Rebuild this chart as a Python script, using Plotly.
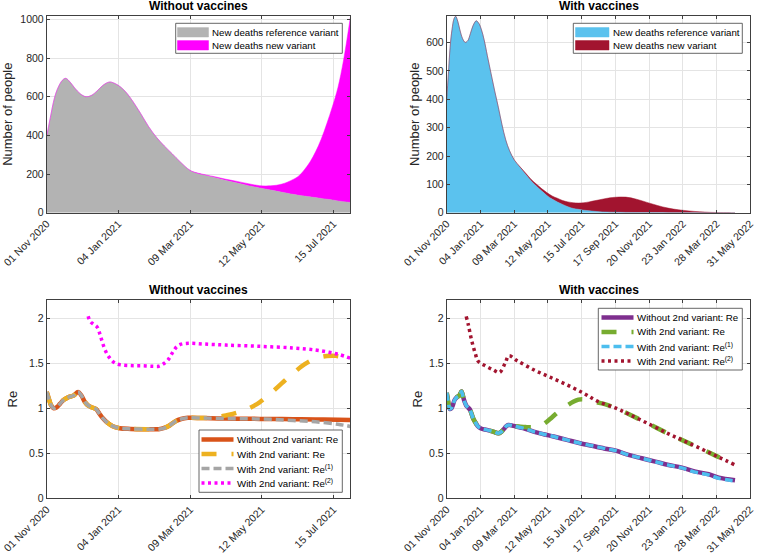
import plotly.graph_objects as go
import pandas as pd

START = pd.Timestamp("2020-11-01")

TICK_DATES = ["2020-11-01", "2021-01-04", "2021-03-09", "2021-05-12", "2021-07-15",
              "2021-09-17", "2021-11-20", "2022-01-23", "2022-03-28", "2022-05-31"]
TICK_LABELS = ["01 Nov 2020", "04 Jan 2021", "09 Mar 2021", "12 May 2021", "15 Jul 2021",
               "17 Sep 2021", "20 Nov 2021", "23 Jan 2022", "28 Mar 2022", "31 May 2022"]

# ---------- Top left: new deaths without vaccines (days since 1 Nov 2020) ----------
tl_days = [0, 3, 7, 10, 14, 17, 21, 25, 30, 35, 40, 45, 50, 56, 61, 66, 71, 77, 84, 91,
           98, 105, 112, 119, 128, 134, 140, 150, 160, 170, 180, 190, 200, 210, 220, 225,
           230, 235, 240, 245, 250, 255, 260, 265, 271]
tl_ref = [395, 485, 595, 645, 685, 695, 675, 645, 615, 600, 607, 630, 658, 676, 668, 650,
          622, 575, 512, 445, 390, 345, 305, 264, 218, 204, 195, 182, 167, 154, 140, 128,
          117, 106, 95, 90, 86, 82, 78, 74, 70, 66, 61, 57, 53]
tl_new = [0, 0, 0, 0, 0, 0, 0, 0, 0, 0, 0, 0, 0, 0, 0, 0, 0, 0, 0, 0, 0, 0, 0, 0,
          1, 2, 3, 4, 6, 8, 10, 12, 22, 42, 77, 100, 136, 180, 237, 306, 390, 482, 587,
          733, 957]

# ---------- Top right: new deaths with vaccines ----------
tr_days = [0, 3, 7, 10, 14, 17, 21, 25, 30, 35, 40, 45, 50, 56, 61, 66, 71, 77, 84, 91,
           98, 105, 112, 119, 128, 140, 150, 160, 170, 180, 190, 200, 210, 220, 230, 240,
           250, 260, 270, 280, 290, 300, 320, 340, 360, 380, 400, 420, 440, 460, 480, 500,
           520, 540, 547]
tr_ref = [398, 485, 595, 645, 685, 693, 675, 645, 615, 601, 607, 632, 660, 677, 668, 645,
          610, 555, 492, 430, 372, 310, 257, 220, 186, 158, 135, 113, 94, 77, 61, 48, 38,
          29, 21, 15, 12, 9, 7, 5, 3.5, 2.5, 1.5, 1, 0.6, 0.4, 0.3, 0.2, 0.15, 0.1, 0.05,
          0.03, 0.01, 0, 0]
tr_new = [0, 0, 0, 0, 0, 0, 0, 0, 0, 0, 0, 0, 0, 0, 0, 0, 0, 0, 0, 0, 0, 0, 0, 0,
          1, 2, 4, 5, 7, 8, 10, 11, 13, 14, 17, 20, 22, 26, 31, 37, 42, 47, 53, 54, 47,
          36, 25, 16, 10, 6, 3, 1.2, 0.3, 0.05, 0]

# ---------- Bottom left: Re without vaccines ----------
bl_days = [0, 2, 4, 6, 9, 12, 15, 19, 24, 28, 31, 34, 37, 40, 44, 47, 50, 54, 59, 65,
           75, 90, 100, 105, 110, 115, 120, 126, 140, 160, 180, 200, 220, 240, 260, 271]
bl_re = [1.18, 1.1, 1.03, 1.0, 1.01, 1.05, 1.09, 1.12, 1.14, 1.18, 1.14, 1.07, 1.03, 1.01,
         0.99, 0.94, 0.89, 0.84, 0.8, 0.778, 0.77, 0.767, 0.767, 0.78, 0.81, 0.855, 0.88,
         0.893, 0.89, 0.885, 0.882, 0.88, 0.877, 0.874, 0.872, 0.87]
bl_re1 = [1.18, 1.1, 1.03, 1.0, 1.01, 1.05, 1.09, 1.12, 1.14, 1.18, 1.14, 1.07, 1.03, 1.01,
          0.99, 0.94, 0.89, 0.84, 0.8, 0.778, 0.77, 0.767, 0.767, 0.78, 0.81, 0.855, 0.88,
          0.893, 0.89, 0.885, 0.882, 0.876, 0.863, 0.848, 0.822, 0.797]
bl_v2_days = [0, 2, 4, 6, 9, 12, 15, 19, 24, 28, 31, 34, 37, 40, 44, 47, 50, 54, 59, 65,
              75, 90, 100, 105, 110, 115, 120, 126, 140, 150, 160, 170, 180, 190, 200, 210,
              220, 230, 240, 250, 258, 265, 271]
bl_v2_re = [1.18, 1.1, 1.03, 1.0, 1.01, 1.05, 1.09, 1.12, 1.14, 1.18, 1.14, 1.07, 1.03,
            1.01, 0.99, 0.94, 0.89, 0.84, 0.8, 0.778, 0.77, 0.767, 0.767, 0.78, 0.81, 0.855,
            0.88, 0.893, 0.89, 0.895, 0.92, 0.95, 0.995, 1.065, 1.165, 1.278, 1.387, 1.485,
            1.55, 1.578, 1.58, 1.565, 1.537]
bl_re2_days = [37, 39, 42, 45, 47, 49, 52, 56, 61, 66, 75, 85, 95, 100, 104, 108, 112, 116,
               120, 128, 140, 160, 190, 220, 240, 252, 261, 271]
bl_re2 = [2.02, 1.96, 1.93, 1.9, 1.84, 1.76, 1.65, 1.56, 1.5, 1.48, 1.472, 1.47, 1.465,
          1.465, 1.49, 1.53, 1.61, 1.68, 1.71, 1.72, 1.712, 1.7, 1.686, 1.668, 1.645, 1.62,
          1.595, 1.555]

# ---------- Bottom right: Re with vaccines ----------
br_days = [0, 2, 4, 6, 9, 12, 15, 19, 24, 28, 31, 34, 37, 40, 44, 47, 50, 54, 59, 65,
           76, 88, 98, 103, 108, 113, 117, 122, 127, 145, 165, 184, 203, 228, 253, 282,
           307, 321, 345, 370, 396, 421, 446, 472, 497, 516, 547]
br_re = [1.17, 1.1, 1.03, 0.99, 1.0, 1.04, 1.09, 1.12, 1.14, 1.185, 1.13, 1.07, 1.03, 1.01,
         0.985, 0.94, 0.89, 0.845, 0.8, 0.775, 0.759, 0.74, 0.722, 0.735, 0.765, 0.8, 0.814,
         0.81, 0.803, 0.778, 0.74, 0.711, 0.685, 0.648, 0.611, 0.575, 0.544, 0.529, 0.481,
         0.444, 0.407, 0.37, 0.34, 0.296, 0.267, 0.229, 0.2]
br_re1 = [1.17, 1.1, 1.03, 0.99, 1.0, 1.04, 1.09, 1.12, 1.14, 1.185, 1.13, 1.07, 1.03, 1.01,
          0.985, 0.94, 0.89, 0.845, 0.8, 0.775, 0.759, 0.74, 0.722, 0.735, 0.765, 0.8, 0.814,
          0.81, 0.803, 0.778, 0.74, 0.711, 0.685, 0.648, 0.611, 0.575, 0.544, 0.529, 0.481,
          0.444, 0.405, 0.368, 0.337, 0.29, 0.26, 0.222, 0.19]
br_v2_days = [0, 2, 4, 6, 9, 12, 15, 19, 24, 28, 31, 34, 37, 40, 44, 47, 50, 54, 59, 65,
              76, 88, 98, 103, 108, 113, 117, 122, 127, 140, 150, 160, 170, 180, 190, 200,
              210, 220, 230, 240, 250, 258, 266, 275, 285, 300, 321, 345, 385, 421, 449,
              484, 513, 535]
br_v2_re = [1.17, 1.1, 1.03, 0.99, 1.0, 1.04, 1.09, 1.12, 1.14, 1.185, 1.13, 1.07, 1.03,
            1.01, 0.985, 0.94, 0.89, 0.845, 0.8, 0.775, 0.759, 0.74, 0.722, 0.735, 0.765,
            0.8, 0.814, 0.81, 0.803, 0.795, 0.79, 0.787, 0.79, 0.81, 0.85, 0.9, 0.95, 0.995,
            1.035, 1.07, 1.095, 1.1, 1.09, 1.075, 1.065, 1.045, 1.0, 0.935, 0.82, 0.715,
            0.64, 0.545, 0.465, 0.405]
br_re2_days = [37, 41, 47, 54, 60, 73, 88, 100, 111, 118, 133, 165, 196, 228, 260, 285, 321,
               345, 385, 421, 449, 484, 513, 547]
br_re2 = [2.018, 1.926, 1.759, 1.611, 1.518, 1.47, 1.426, 1.396, 1.5, 1.581, 1.529, 1.426,
          1.344, 1.259, 1.165, 1.08, 1.0, 0.935, 0.82, 0.715, 0.64, 0.545, 0.465, 0.37]


def to_dates(days):
    return [START + pd.Timedelta(days=d) for d in days]


FONT = "Liberation Sans, Arial, Helvetica, sans-serif"
GREY_FILL = "#b3b3b3"
MAGENTA = "#ff00ff"
BLUE_FILL = "#5bc2ee"
DARKRED = "#a2142f"
ORANGE = "#d95319"
YELLOW = "#edb120"
LGREY = "#a5a5a5"
PURPLE = "#7e2f8e"
GREEN = "#77ac30"
CYAN = "#4dbeee"
AXC = "#404040"

STYLE = {
    "re": dict(width=4.5),
    "v2": dict(width=4.5, dash="15px,15px"),
    "re1": dict(width=3.5, dash="8px,4px"),
    "re2": dict(width=3.5, dash="3px,3.5px"),
}

fig = go.Figure()


def area(x, y, group, color, name, xa, ya):
    fig.add_trace(go.Scatter(x=to_dates(x), y=y, stackgroup=group, mode="lines",
                             line=dict(color=color, width=0.5, shape="spline"),
                             fillcolor=color, name=name, xaxis=xa, yaxis=ya,
                             showlegend=False))


def line(x, y, color, style, name, xa, ya):
    fig.add_trace(go.Scatter(x=to_dates(x), y=y, mode="lines",
                             line=dict(color=color, shape="spline", **STYLE[style]),
                             name=name, xaxis=xa, yaxis=ya, showlegend=False))


area(tl_days, tl_ref, "tl", GREY_FILL, "New deaths reference variant", "x", "y")
area(tl_days, tl_new, "tl", MAGENTA, "New deaths new variant", "x", "y")
area(tr_days, tr_ref, "tr", BLUE_FILL, "New deaths reference variant", "x2", "y2")
area(tr_days, tr_new, "tr", DARKRED, "New deaths new variant", "x2", "y2")

line(bl_days, bl_re, ORANGE, "re", "Without 2nd variant: Re", "x3", "y3")
line(bl_v2_days, bl_v2_re, YELLOW, "v2", "With 2nd variant: Re", "x3", "y3")
line(bl_days, bl_re1, LGREY, "re1", "With 2nd variant: Re<sup>(1)</sup>", "x3", "y3")
line(bl_re2_days, bl_re2, MAGENTA, "re2", "With 2nd variant: Re<sup>(2)</sup>", "x3", "y3")

line(br_days, br_re, PURPLE, "re", "Without 2nd variant: Re", "x4", "y4")
line(br_v2_days, br_v2_re, GREEN, "v2", "With 2nd variant: Re", "x4", "y4")
line(br_days, br_re1, CYAN, "re1", "With 2nd variant: Re<sup>(1)</sup>", "x4", "y4")
line(br_re2_days, br_re2, DARKRED, "re2", "With 2nd variant: Re<sup>(2)</sup>", "x4", "y4")

W, H = 760, 557
XL = [46.7 / W, 350.3 / W]
XR = [446.7 / W, 750.3 / W]
YT = [1 - 212.7 / H, 1 - 15.7 / H]
YB = [1 - 498.3 / H, 1 - 300.0 / H]

axis_common = dict(showline=True, linecolor=AXC, linewidth=0.8, mirror="ticks",
                   ticks="inside", ticklen=3, tickcolor=AXC, showgrid=True,
                   gridcolor="#e4e4e4", gridwidth=1, zeroline=False, automargin=False,
                   tickfont=dict(family=FONT, size=10.5, color="#262626"))

xl_range = [START, START + pd.Timedelta(days=271)]
xr_range = [pd.Timestamp(TICK_DATES[0]), pd.Timestamp(TICK_DATES[-1])]


def xaxis(domain, anchor, rng, n):
    return dict(axis_common, domain=domain, anchor=anchor, type="date", range=rng,
                tickmode="array", tickvals=TICK_DATES[:n], ticktext=TICK_LABELS[:n],
                tickangle=-45)


def yaxis(domain, anchor, rng, dtick, title, standoff):
    return dict(axis_common, domain=domain, anchor=anchor, range=rng, dtick=dtick,
                tick0=0, title=dict(text=title, standoff=standoff,
                                    font=dict(family=FONT, size=13, color="#262626")))


fig.update_layout(
    width=W, height=H, margin=dict(l=0, r=0, t=0, b=0),
    paper_bgcolor="white", plot_bgcolor="white",
    font=dict(family=FONT, color="#262626"),
    xaxis=xaxis(XL, "y", xl_range, 5),
    yaxis=yaxis(YT, "x", [0, 1019], 200, "Number of people", 5),
    xaxis2=xaxis(XR, "y2", xr_range, 10),
    yaxis2=yaxis(YT, "x2", [0, 695], 100, "Number of people", 3),
    xaxis3=xaxis(XL, "y3", xl_range, 5),
    yaxis3=yaxis(YB, "x3", [0, 2.2], 0.5, "Re", 8),
    xaxis4=xaxis(XR, "y4", xr_range, 10),
    yaxis4=yaxis(YB, "x4", [0, 2.2], 0.5, "Re", 3),
    showlegend=False,
)

titles = [("Without vaccines", XL, YT), ("With vaccines", XR, YT),
          ("Without vaccines", XL, YB), ("With vaccines", XR, YB)]
for text, xd, yd in titles:
    fig.add_annotation(text="<b>%s</b>" % text, xref="paper", yref="paper",
                       x=(xd[0] + xd[1]) / 2, y=yd[1], xanchor="center", yanchor="bottom",
                       yshift=1, showarrow=False,
                       font=dict(family=FONT, size=12, color="black"))


# ---------- Legend boxes (MATLAB style), built from the traces' names and styles ----------
def px(x):
    return x / W


def py(y):
    return 1 - y / H


def legend_box(box, sw_x, rows, entries):
    x0, y0, x1, y1 = box
    fig.add_shape(type="rect", xref="paper", yref="paper", x0=px(x0), x1=px(x1),
                  y0=py(y1), y1=py(y0), fillcolor="white",
                  line=dict(color=AXC, width=0.8), layer="above")
    for (kind, color, style, text), yc in zip(entries, rows):
        if kind == "patch":
            fig.add_shape(type="rect", xref="paper", yref="paper", x0=px(sw_x[0]),
                          x1=px(sw_x[1]), y0=py(yc + 4.7), y1=py(yc - 4.7),
                          fillcolor=color, line=dict(color=color, width=0.5),
                          layer="above")
        else:
            st = STYLE[style]
            fig.add_shape(type="line", xref="paper", yref="paper", x0=px(sw_x[0]),
                          x1=px(sw_x[1]), y0=py(yc), y1=py(yc),
                          line=dict(color=color, width=st["width"],
                                    dash=st.get("dash", "solid")), layer="above")
        fig.add_annotation(text=text, xref="paper", yref="paper", x=px(sw_x[1] + 2.5),
                           y=py(yc), xanchor="left", yanchor="middle", showarrow=False,
                           borderpad=0, font=dict(family=FONT, size=9.7, color="black"))


def entries_from(traces, kind, styles):
    out = []
    for tr, st in zip(traces, styles):
        color = tr.fillcolor if kind == "patch" else tr.line.color
        out.append((kind, color, st, tr.name))
    return out


d = fig.data
legend_box((175.7, 23.3, 342.3, 53.3), (177.5, 208.5), [32.3, 45.3],
           entries_from(d[0:2], "patch", [None, None]))
legend_box((573.3, 23.3, 742.3, 53.3), (575.5, 609.0), [32.3, 45.3],
           entries_from(d[2:4], "patch", [None, None]))
legend_box((199.0, 430.0, 342.3, 492.3), (201.5, 233.5), [439.5, 454.0, 468.5, 483.0],
           entries_from(d[4:8], "line", ["re", "v2", "re1", "re2"]))
legend_box((598.3, 308.3, 742.3, 370.0), (601.5, 633.5), [317.5, 332.0, 346.5, 361.0],
           entries_from(d[8:12], "line", ["re", "v2", "re1", "re2"]))

# the page is shown edge to edge: remove the browser's default body margin
fig.write_html("out.html", config={"displayModeBar": False},
               post_script="document.body.style.margin='0px';")
